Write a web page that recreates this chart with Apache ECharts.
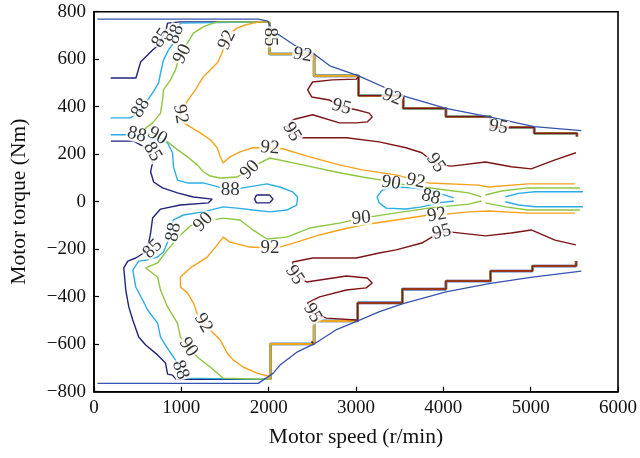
<!DOCTYPE html>
<html>
<head>
<meta charset="utf-8">
<title>Motor efficiency map</title>
<script src="https://cdn.jsdelivr.net/npm/echarts@6/dist/echarts.min.js"></script>
<style>
  html, body { margin: 0; padding: 0; background: #fff; }
  #chart { width: 640px; height: 458px; }
</style>
</head>
<body>
<div id="chart"></div>
<script>
// axis ranges (r/min, Nm)
const speedRange = [0, 6000];
const torqueRange = [-800, 800];

// max torque envelope
const envelopeTop = [[40,769],[1880,769],[1990,760],[2050,714],[2130,700],[2330,650],[2520,622],[2700,572],[3030,530],[3540,446],[4030,393],[4540,356],[5040,316],[5580,299]];
const envelopeBottom = [[40,-765],[1880,-765],[2050,-723],[2130,-688],[2330,-632],[2520,-599],[2770,-540],[3020,-502],[3270,-463],[3530,-430],[4030,-380],[4540,-344],[5020,-318],[5580,-292]];

// grid edge where all contour levels run together
const stairTop = [[2010,757],[2010,622],[2520,622],[2520,530],[3030,530],[3030,446],[3540,446],[3540,393],[4030,393],[4030,358],[4540,358],[4540,313],[5040,313],[5040,288],[5530,288],[5530,275]];
const stairBottom = [[2020,-748],[2020,-599],[2520,-599],[2520,-502],[3020,-502],[3020,-426],[3530,-426],[3530,-368],[4030,-368],[4030,-334],[4540,-334],[4540,-292],[5020,-292],[5020,-271],[5520,-271],[5520,-250]];

// 85 %
const eff85Upper = [[190,521],[480,521],[535,589],[614,618],[671,639],[740,660],[796,702],[830,731],[842,752],[990,757],[2010,757]];
const eff85Lower = [[193,255],[455,255],[592,227],[671,167],[648,126],[683,83],[785,58],[956,37],[1138,20],[1354,11],[1308,-5],[990,-14],[762,-31],[671,-69],[648,-132],[626,-174],[569,-216],[478,-237],[387,-250],[341,-279],[364,-372],[398,-443],[444,-498],[512,-570],[592,-603],[728,-645],[819,-679],[842,-726],[899,-730],[940,-748],[2020,-748]];
const eff85Island = [[1860,28],[2010,28],[2050,11],[2010,-5],[1860,-5],[1840,11],[1860,28]];

// 88 %
const eff88Upper = [[190,353],[420,353],[535,387],[614,428],[671,458],[740,500],[762,542],[796,597],[853,639],[910,668],[933,710],[990,752],[1010,757],[2010,757]];
const eff88Lower = [[193,282],[387,282],[592,273],[728,261],[842,248],[899,206],[910,147],[956,91],[1069,79],[1251,79],[1559,49],[1707,58],[1980,75],[2127,62],[2275,41],[2332,20],[2321,-14],[2207,-35],[2014,-43],[1820,-35],[1638,-27],[1479,-22],[1251,-43],[1024,-56],[910,-77],[876,-107],[853,-161],[796,-212],[728,-233],[614,-245],[512,-250],[444,-288],[478,-359],[557,-414],[614,-456],[728,-511],[762,-570],[853,-624],[910,-654],[956,-679],[990,-708],[1024,-743],[1040,-748],[2020,-748]];
const eff88Mid = [[4119,16],[3982,32],[3834,49],[3641,58],[3459,62],[3299,49],[3242,20],[3265,-5],[3345,-27],[3572,-31],[3754,-22],[3948,-5],[4119,3]];
const eff88RightUp = [[5600,42],[5050,42],[4860,35],[4710,21]];
const eff88RightLow = [[4710,0],[4860,-14],[5050,-21],[5600,-21]];

// 90 %
const eff90Upper = [[2010,757],[1420,757],[1365,752],[1251,736],[1138,710],[1069,668],[1013,626],[956,584],[933,555],[876,513],[796,471],[785,428],[762,373],[671,332],[592,310],[569,294],[728,273],[842,252],[956,219],[1069,189],[1183,155],[1251,126],[1331,108],[1445,100],[1638,104],[1786,134],[1900,163],[2014,184],[2389,155],[2810,122],[3072,104],[3299,91],[3402,79],[3606,70],[4028,49],[4289,37],[4437,20]];
const eff90Lower = [[4437,3],[4289,-10],[3834,-27],[3459,-47],[3072,-69],[2810,-90],[2469,-111],[2207,-149],[1980,-157],[1820,-119],[1672,-77],[1479,-69],[1251,-85],[1103,-102],[990,-140],[842,-203],[728,-258],[592,-279],[728,-317],[762,-372],[842,-443],[956,-511],[990,-570],[1081,-612],[1183,-654],[1331,-696],[1479,-743],[1500,-748],[2020,-748]];
const eff90RightUp = [[4483,28],[4665,45],[4971,58],[5563,58]];
const eff90RightLow = [[4483,-5],[4710,-22],[4971,-35],[5563,-35]];

// 92 %
const eff92Upper = [[2010,757],[1900,757],[1820,752],[1729,744],[1638,731],[1581,715],[1524,681],[1468,630],[1422,589],[1331,555],[1251,526],[1160,471],[1103,441],[1024,399],[990,366],[1013,336],[1103,315],[1217,290],[1331,261],[1411,227],[1445,189],[1479,163],[1559,189],[1672,210],[1820,227],[1991,227],[2162,223],[2469,189],[2810,155],[3072,134],[3459,113],[3686,91],[3834,79],[4403,70],[4517,62],[4971,75],[5506,75]];
const eff92Lower = [[5506,-48],[4971,-48],[4517,-39],[4289,-43],[3925,-56],[3834,-56],[3459,-77],[3072,-98],[2810,-119],[2583,-140],[2321,-170],[2127,-191],[2014,-195],[1786,-191],[1559,-170],[1479,-149],[1411,-182],[1297,-233],[1103,-279],[990,-317],[990,-359],[1069,-384],[1138,-426],[1195,-485],[1251,-511],[1331,-540],[1445,-582],[1524,-637],[1593,-666],[1707,-696],[1866,-722],[1991,-734],[2020,-748]];

// 95 %
const eff95Upper = [[3030,526],[3003,516],[2730,513],[2503,504],[2446,471],[2492,441],[2696,428],[2833,399],[3003,387],[3151,373],[3186,357],[3129,336],[3003,332],[2810,332],[2503,366],[2275,345],[2207,315],[2264,290],[2389,269],[2890,269],[3265,252],[3572,227],[3754,206],[3925,155],[4096,150],[4483,167],[4778,147],[5006,138],[5279,176],[5518,206]];
const eff95Lower = [[5518,-182],[5279,-162],[5006,-119],[4778,-132],[4483,-144],[4096,-128],[3982,-128],[3868,-149],[3754,-174],[3459,-203],[3265,-216],[3003,-237],[2503,-237],[2275,-254],[2298,-309],[2435,-338],[2890,-313],[3129,-321],[3186,-342],[3117,-363],[2890,-372],[2583,-401],[2446,-426],[2503,-469],[2662,-490],[3003,-498],[3020,-502]];
const eff95SpeckTop = [[2480,606],[2505,616]];
const eff95SpeckBottom = [[2490,-588],[2510,-596]];

// contour labels
const labelText = ['85','88','90','92','92','88','88','90','85','88','90','92','85','92','95','92','95','95','95','90','92','88','92','95','90','90','92','88','85','95','95','92','90','88'];
const labelSpeed = [770,933,1013,1524,990,535,489,728,671,1559,1786,2014,2014,2389,2833,3413,2264,3914,4630,3402,3686,3857,3925,3982,3060,1251,2014,910,671,2298,2503,1251,1081,990];
const labelTorque = [689,706,622,681,369,394,282,277,210,49,134,227,694,618,399,441,294,163,315,79,87,20,-56,-128,-69,-85,-195,-128,-199,-309,-469,-511,-612,-708];
const labelAngle = [57,71,63,65,-80,60,-15,-30,-60,0,45,-5,-90,-10,-15,-20,-60,-55,-10,-8,-12,-15,10,15,5,45,0,80,45,-55,-60,-60,-55,-70];

/*
 * colours of the levels
 */
const C85 = '#23237a';
const C88 = '#2aaee4';
const C90 = '#8dc63f';
const C92 = '#f7a21b';
const C95 = '#7d1518';
const CENV = '#3553b0';
const FONT = '"Liberation Serif", "DejaVu Serif", serif';

const line = (data, color, width, z) => ({
    type: 'line',
    data: data,
    symbol: 'none',
    silent: true,
    animation: false,
    z: z || 2,
    lineStyle: { color: color, width: width || 1.4 }
});

const series = [
    // stair edge, stacked so several colours peek out
    line(stairTop, C85, 2.6), line(stairTop, C88, 2.3), line(stairTop, C90, 2.0), line(stairTop, C92, 1.7), line(stairTop.slice(4), C95, 1.5),
    line(stairBottom, C85, 2.6), line(stairBottom, C88, 2.3), line(stairBottom, C90, 2.0), line(stairBottom, C92, 1.7), line(stairBottom.slice(4), C95, 1.5),

    line(eff85Upper, C85), line(eff85Lower, C85), line(eff85Island, C85),
    line(eff88Upper, C88), line(eff88Lower, C88), line(eff88Mid, C88), line(eff88RightUp, C88), line(eff88RightLow, C88),
    line(eff90Upper, C90), line(eff90Lower, C90), line(eff90RightUp, C90), line(eff90RightLow, C90),
    line(eff92Upper, C92), line(eff92Lower, C92),
    line(eff95Upper, C95), line(eff95Lower, C95), line(eff95SpeckTop, C95, 1.8), line(eff95SpeckBottom, C95, 1.8),

    line(envelopeTop, CENV, 1.3, 3), line(envelopeBottom, CENV, 1.3, 3),

    {
        type: 'scatter',
        silent: true,
        animation: false,
        z: 6,
        symbolSize: 2,
        itemStyle: { color: 'rgba(255,255,255,0)' },
        data: labelText.map((t, i) => ({
            value: [labelSpeed[i], labelTorque[i]],
            label: { formatter: t, rotate: labelAngle[i] }
        })),
        label: {
            show: true,
            position: 'inside',
            fontFamily: FONT,
            fontSize: 19,
            color: '#000',
            backgroundColor: '#fff',
            padding: [0, 1],
            lineHeight: 15
        },
        labelLayout: { hideOverlap: false }
    }
];

const chart = echarts.init(document.getElementById('chart'));

chart.setOption({
    animation: false,
    backgroundColor: '#fff',
    grid: {
        left: 93,
        right: 19.5,
        top: 11.7,
        bottom: 66.3,
        show: true,
        borderColor: '#000',
        borderWidth: 1.6
    },
    xAxis: {
        type: 'value',
        min: speedRange[0],
        max: speedRange[1],
        interval: 1000,
        name: 'Motor speed (r/min)',
        nameLocation: 'middle',
        nameGap: 35,
        nameTextStyle: { fontFamily: FONT, fontSize: 21.5, color: '#111' },
        axisLine: { show: true, onZero: false, lineStyle: { color: '#000', width: 1.6 } },
        axisTick: { show: true, inside: true, length: 5, lineStyle: { color: '#000', width: 1.2 } },
        axisLabel: { fontFamily: FONT, fontSize: 19, color: '#111', margin: 7, formatter: (v) => String(v) },
        splitLine: { show: false }
    },
    yAxis: {
        type: 'value',
        min: torqueRange[0],
        max: torqueRange[1],
        interval: 200,
        name: 'Motor torque (Nm)',
        nameLocation: 'middle',
        nameRotate: 90,
        nameGap: 64,
        nameTextStyle: { fontFamily: FONT, fontSize: 21.5, color: '#111' },
        axisLine: { show: true, onZero: false, lineStyle: { color: '#000', width: 1.6 } },
        axisTick: { show: true, inside: true, length: 5, lineStyle: { color: '#000', width: 1.2 } },
        axisLabel: {
            fontFamily: FONT,
            fontSize: 19,
            color: '#111',
            margin: 8,
            formatter: (v) => v < 0 ? '\u2212' + Math.abs(v) : String(v)
        },
        splitLine: { show: false }
    },
    series: series
});
</script>
</body>
</html>
